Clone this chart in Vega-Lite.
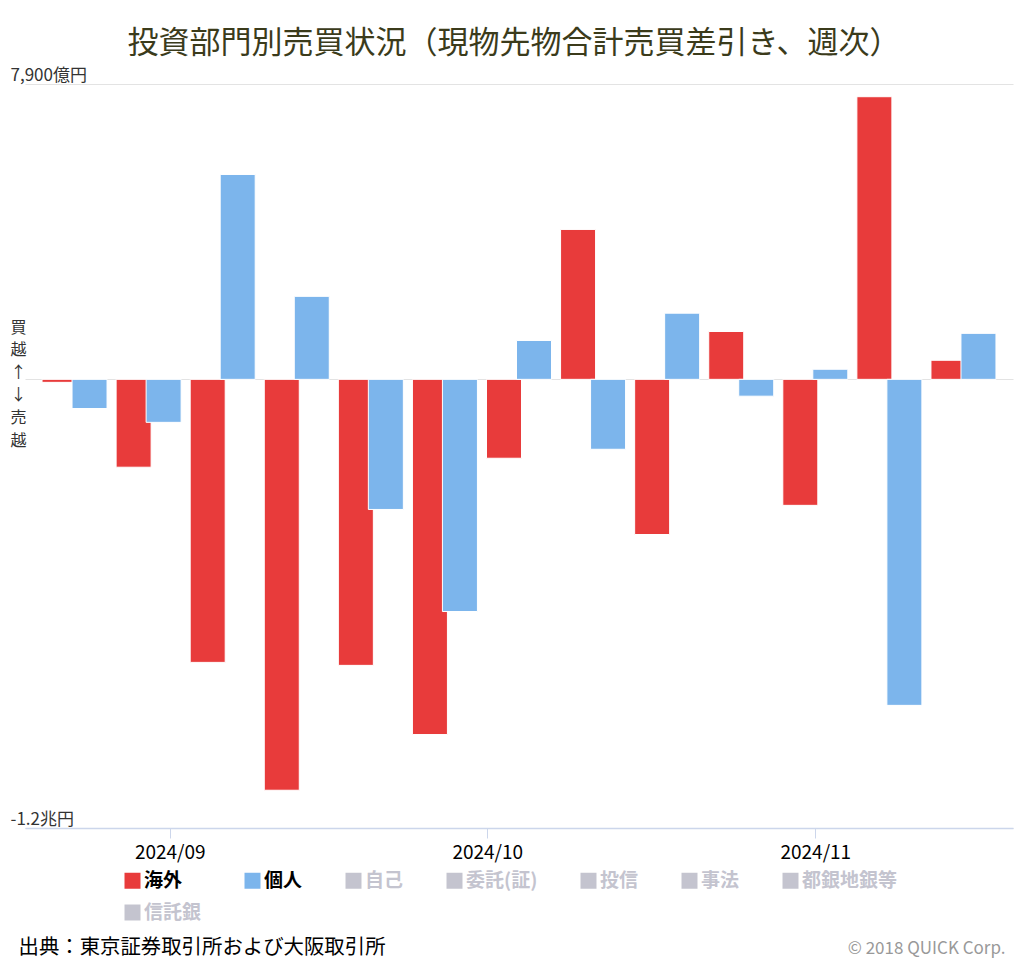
{
  "$schema": "https://vega.github.io/schema/vega-lite/v6.json",
  "width": 988,
  "height": 744,
  "autosize": {"type": "none"},
  "padding": {"left": 25, "top": 84, "right": 11, "bottom": 136},
  "background": "#ffffff",
  "config": {
    "font": "Noto Sans CJK JP",
    "view": {"stroke": null}
  },
  "title": {
    "text": "投資部門別売買状況（現物先物合計売買差引き、週次）",
    "fontSize": 31,
    "fontWeight": "normal",
    "font": "Noto Sans CJK JP",
    "color": "#3b3b1b",
    "anchor": "middle",
    "offset": 6,
    "dx": -5
  },
  "data": {
    "values": [
      {"週": "2024-08-23T00:00:00", "投資部門": "海外", "差引き": -80},
      {"週": "2024-08-23T00:00:00", "投資部門": "個人", "差引き": -780},
      {"週": "2024-08-30T00:00:00", "投資部門": "海外", "差引き": -2350},
      {"週": "2024-08-30T00:00:00", "投資部門": "個人", "差引き": -1150},
      {"週": "2024-09-06T00:00:00", "投資部門": "海外", "差引き": -7570},
      {"週": "2024-09-06T00:00:00", "投資部門": "個人", "差引き": 5480},
      {"週": "2024-09-13T00:00:00", "投資部門": "海外", "差引き": -10990},
      {"週": "2024-09-13T00:00:00", "投資部門": "個人", "差引き": 2220},
      {"週": "2024-09-20T00:00:00", "投資部門": "海外", "差引き": -7650},
      {"週": "2024-09-20T00:00:00", "投資部門": "個人", "差引き": -3480},
      {"週": "2024-09-27T00:00:00", "投資部門": "海外", "差引き": -9500},
      {"週": "2024-09-27T00:00:00", "投資部門": "個人", "差引き": -6210},
      {"週": "2024-10-04T00:00:00", "投資部門": "海外", "差引き": -2110},
      {"週": "2024-10-04T00:00:00", "投資部門": "個人", "差引き": 1040},
      {"週": "2024-10-11T00:00:00", "投資部門": "海外", "差引き": 4010},
      {"週": "2024-10-11T00:00:00", "投資部門": "個人", "差引き": -1870},
      {"週": "2024-10-18T00:00:00", "投資部門": "海外", "差引き": -4150},
      {"週": "2024-10-18T00:00:00", "投資部門": "個人", "差引き": 1770},
      {"週": "2024-10-25T00:00:00", "投資部門": "海外", "差引き": 1280},
      {"週": "2024-10-25T00:00:00", "投資部門": "個人", "差引き": -450},
      {"週": "2024-11-01T00:00:00", "投資部門": "海外", "差引き": -3370},
      {"週": "2024-11-01T00:00:00", "投資部門": "個人", "差引き": 270},
      {"週": "2024-11-08T00:00:00", "投資部門": "海外", "差引き": 7560},
      {"週": "2024-11-08T00:00:00", "投資部門": "個人", "差引き": -8720},
      {"週": "2024-11-15T00:00:00", "投資部門": "海外", "差引き": 510},
      {"週": "2024-11-15T00:00:00", "投資部門": "個人", "差引き": 1230}
    ]
  },
  "encoding": {
    "x": {
      "field": "週",
      "type": "temporal",
      "scale": {
        "domain": [
          {"year": 2024, "month": 8, "date": 18, "hours": 19},
          {"year": 2024, "month": 11, "date": 19, "hours": 5}
        ],
        "nice": false
      },
      "axis": {
        "format": "%Y/%m",
        "tickCount": {"interval": "month", "step": 1},
        "labelFontSize": 19,
        "labelColor": "#000000",
        "labelPadding": 5,
        "domainColor": "#ccd6eb",
        "domainWidth": 1.5,
        "tickColor": "#ccd6eb",
        "tickSize": 10,
        "grid": false,
        "title": "出典：東京証券取引所および大阪取引所",
        "titleX": -7,
        "titleY": 119,
        "titleAlign": "left",
        "titleBaseline": "middle",
        "titleFontSize": 20.4,
        "titleFontWeight": "normal",
        "titleColor": "#000000"
      }
    },
    "color": {
      "field": "投資部門",
      "type": "nominal",
      "scale": {
        "domain": ["海外", "個人", "自己", "委託(証)", "投信", "事法", "都銀地銀等", "信託銀"],
        "range": ["#e83b3b", "#7cb5ec", "#c4c4cf", "#c4c4cf", "#c4c4cf", "#c4c4cf", "#c4c4cf", "#c4c4cf"]
      },
      "legend": {
        "title": null,
        "orient": "none",
        "legendX": 98,
        "legendY": 787,
        "direction": "horizontal",
        "columns": 7,
        "columnPadding": 41,
        "rowPadding": 12,
        "padding": 0,
        "symbolType": "square",
        "symbolSize": 256,
        "symbolStrokeWidth": 0,
        "symbolOpacity": 1,
        "labelOffset": 2,
        "labelFontSize": 19,
        "labelFontWeight": "bold",
        "labelFont": "Noto Sans CJK JP",
        "labelLimit": 300,
        "labelColor": {"expr": "indexof(['海外','個人'], datum.value) >= 0 ? '#000000' : '#c4c4cf'"}
      }
    }
  },
  "layer": [
    {
      "transform": [{"filter": "datum['投資部門'] === '海外'"}],
      "mark": {"type": "bar", "width": 35, "xOffset": -15, "stroke": "#ffffff", "strokeWidth": 1},
      "encoding": {
        "y": {
          "field": "差引き",
          "type": "quantitative",
          "scale": {"domain": [-12000, 7900], "nice": false, "zero": false},
          "axis": {
            "orient": "left",
            "values": [-12000, 0, 7900],
            "labelExpr": "datum.value === 7900 ? '7,900億円' : (datum.value === -12000 ? '-1.2兆円' : '')",
            "labelAlign": "left",
            "labelBaseline": "bottom",
            "labelPadding": 15,
            "labelFontSize": 17,
            "labelColor": "#333333",
            "ticks": false,
            "tickSize": 0,
            "domain": false,
            "grid": true,
            "gridColor": "#e3e3e3",
            "title": ["買", "越", "↑", "↓", "売", "越"],
            "titleAngle": 0,
            "titleX": -7,
            "titleY": 243,
            "titleAlign": "center",
            "titleBaseline": "middle",
            "titleFontSize": 16,
            "titleLineHeight": 22.6,
            "titleFontWeight": "normal",
            "titleColor": "#333333"
          }
        }
      }
    },
    {
      "transform": [{"filter": "datum['投資部門'] === '個人'"}],
      "mark": {"type": "bar", "width": 35, "xOffset": 15, "stroke": "#ffffff", "strokeWidth": 1},
      "encoding": {
        "y": {
          "field": "差引き",
          "type": "quantitative",
          "scale": {"domain": [-12000, 7900], "nice": false, "zero": false},
          "axis": {
            "orient": "right",
            "labels": false,
            "ticks": false,
            "domain": false,
            "grid": false,
            "title": "© 2018 QUICK Corp.",
            "titleAngle": 0,
            "titleX": -8,
            "titleY": 864,
            "titleAlign": "right",
            "titleBaseline": "middle",
            "titleFontSize": 17,
            "titleFontWeight": "normal",
            "titleColor": "#999999"
          }
        }
      }
    }
  ],
  "resolve": {"scale": {"y": "independent"}}
}
